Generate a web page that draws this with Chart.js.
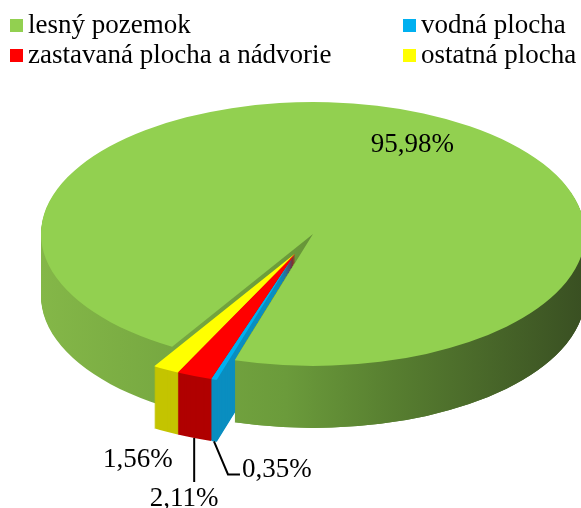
<!DOCTYPE html>
<html>
<head>
<meta charset="utf-8">
<script src="https://cdn.jsdelivr.net/npm/chart.js@4.4.0/dist/chart.umd.min.js"></script>
<style>
  body { margin: 0; background: #fff; }
  #wrap { position: relative; width: 581px; height: 508px; overflow: hidden; }
  #legend { position: absolute; left: 0; top: 0; width: 581px; height: 80px;
            font-family: "Liberation Serif", "Times New Roman", serif; font-size: 27px; color: #000; }
  .item { position: absolute; white-space: nowrap; line-height: 30px; }
  .box { display: inline-block; width: 13px; height: 13px; margin-right: 5px; position: relative; top: -1px; }
</style>
</head>
<body>
<div id="wrap">
  <canvas id="pie"></canvas>
  <div id="legend"></div>
</div>
<script>
const categories = ["lesný pozemok", "vodná plocha", "zastavaná plocha a nádvorie", "ostatná plocha"];
const shares = [95.98, 0.35, 2.11, 1.56];

const topColors = ["#92D050", "#00B0F0", "#FF0000", "#FFFF00"];
const sideColors = [null, "#0A8EC0", "#B00000", "#C4C400"]; // null -> green gradient

// where the squashed pie sits on the page
const CX = 313, CY = 234, R = 272, K = 0.485, DEPTH = 62, EXPLODE = 44;

const fmt = v => v.toFixed(2).replace(".", ",") + "%";

/* legend, two columns like the original */
const legendSpots = [[10, 9], [403, 9], [10, 39], [403, 39]];
const legend = document.getElementById("legend");
categories.forEach((name, i) => {
  const d = document.createElement("div");
  d.className = "item";
  d.style.left = legendSpots[i][0] + "px";
  d.style.top = legendSpots[i][1] + "px";
  d.innerHTML = '<span class="box" style="background:' + topColors[i] + '"></span>' + name;
  legend.appendChild(d);
});

// the small slices are pulled out together along their common middle
function shiftFor(meta, i) {
  if (i === 0) return [0, 0];
  const first = meta.data[1], last = meta.data[meta.data.length - 1];
  const h = (first.startAngle + last.endAngle) / 2;
  return [Math.cos(h) * EXPLODE, Math.sin(h) * EXPLODE];
}

function drawFace(ctx, el, shift, dy, color) {
  ctx.save();
  ctx.translate(CX, CY + dy);
  ctx.scale(1, K);
  ctx.translate(shift[0] - el.x, shift[1] - el.y);
  const o = el.options;
  el.options = Object.assign({}, o, { backgroundColor: color, borderWidth: 0 });
  el.draw(ctx);
  el.options = o;
  ctx.restore();
}

function drawWall(ctx, el, shift, color) {
  for (let d = DEPTH; d >= 1; d--) drawFace(ctx, el, shift, d, color);
}

function onPage(shift, a, r, dy) {
  return [CX + shift[0] + Math.cos(a) * r, CY + dy + (shift[1] + Math.sin(a) * r) * K];
}

const pie3d = {
  id: "pie3d",
  beforeDatasetsDraw(chart) {
    const ctx = chart.ctx;
    const meta = chart.getDatasetMeta(0);
    const arcs = meta.data;
    const green = arcs[0];

    const g = ctx.createLinearGradient(green.x - R, 0, green.x + R, 0);
    g.addColorStop(0, "#84b748");
    g.addColorStop(0.45, "#6b9b3b");
    g.addColorStop(0.65, "#577e30");
    g.addColorStop(1, "#394f22");
    const sides = sideColors.map(c => c || g);

    // side walls: the big slice first, then the small ones from left to right
    drawWall(ctx, green, [0, 0], g);
    for (let i = arcs.length - 1; i >= 1; i--) drawWall(ctx, arcs[i], shiftFor(meta, i), sides[i]);

    // the green corner right of the gap stands in front of the pulled-out slices
    const c0 = onPage([0, 0], 0, 0, 0);
    const p0 = onPage([0, 0], green.endAngle, R, 0);
    ctx.save();
    ctx.beginPath();
    ctx.moveTo(c0[0], c0[1]);
    ctx.lineTo(p0[0], p0[1]);
    ctx.lineTo(p0[0], chart.height);
    ctx.lineTo(chart.width, chart.height);
    ctx.lineTo(chart.width, 0);
    ctx.lineTo(c0[0], 0);
    ctx.closePath();
    ctx.clip();
    drawWall(ctx, green, [0, 0], g);
    ctx.restore();

    // top faces
    arcs.forEach((el, i) => drawFace(ctx, el, shiftFor(meta, i), 0, topColors[i]));

    // value labels
    ctx.save();
    ctx.fillStyle = "#000";
    ctx.strokeStyle = "#000";
    ctx.lineWidth = 2;
    ctx.font = '27px "Liberation Serif", "Times New Roman", serif';
    arcs.forEach((el, i) => {
      const shift = shiftFor(meta, i);
      const mid = (el.startAngle + el.endAngle) / 2;
      const txt = fmt(shares[i]);
      if (i === 0) {
        const p = onPage(shift, mid, R * 0.8, 0);
        ctx.textAlign = "center";
        ctx.textBaseline = "middle";
        ctx.fillText(txt, p[0] + 11, p[1] + 7);
        return;
      }
      const b = onPage(shift, mid, R, DEPTH);
      ctx.textBaseline = "alphabetic";
      if (i === 1) {
        ctx.beginPath();
        ctx.moveTo(b[0], b[1]);
        ctx.lineTo(b[0] + 14, b[1] + 33);
        ctx.lineTo(b[0] + 26, b[1] + 33);
        ctx.stroke();
        ctx.textAlign = "left";
        ctx.fillText(txt, b[0] + 28, b[1] + 36);
      } else if (i === 2) {
        ctx.beginPath();
        ctx.moveTo(b[0], b[1]);
        ctx.lineTo(b[0], b[1] + 44);
        ctx.stroke();
        ctx.textAlign = "center";
        ctx.fillText(txt, b[0] - 10, b[1] + 68);
      } else {
        ctx.textAlign = "right";
        ctx.fillText(txt, b[0] + 7, b[1] + 35);
      }
    });
    ctx.restore();
    return false; // faces already drawn above
  }
};

new Chart(document.getElementById("pie"), {
  type: "pie",
  data: {
    labels: categories,
    datasets: [{
      data: shares,
      backgroundColor: topColors,
      borderWidth: 0,
      clip: false
    }]
  },
  options: {
    responsive: true,
    maintainAspectRatio: false,
    animation: false,
    events: [],
    rotation: 211.2,
    radius: R,
    plugins: {
      legend: { display: false },
      tooltip: { enabled: false }
    }
  },
  plugins: [pie3d]
});
</script>
</body>
</html>
